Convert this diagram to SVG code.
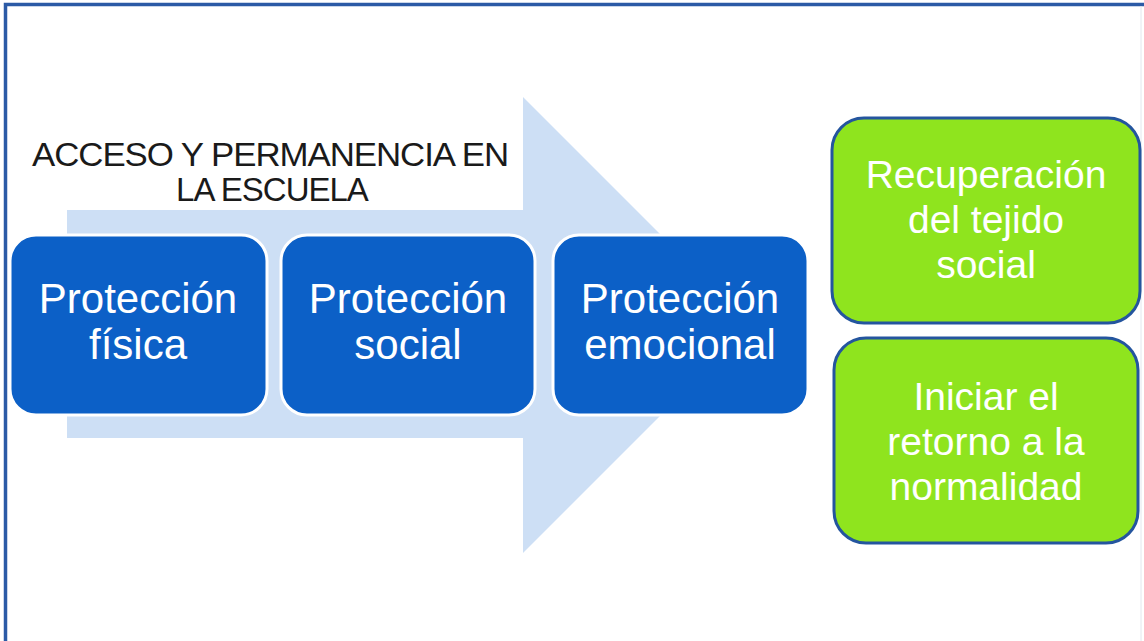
<svg xmlns="http://www.w3.org/2000/svg" width="1144" height="641" viewBox="0 0 1144 641">
  <style>
    .frame { fill: none; stroke: #2b5aa6; stroke-width: 3.5; }
    .blue { fill: #0c60c7; stroke: #ffffff; stroke-width: 3; }
    .green { fill: #8fe41e; stroke: #24559e; stroke-width: 3; }
    .bt { font-family: "Liberation Sans", Arial, sans-serif; font-size: 42px; fill: #ffffff; text-anchor: middle; }
    .gt { font-family: "Liberation Sans", Arial, sans-serif; font-size: 39px; fill: #ffffff; text-anchor: middle; }
    .title { font-family: "Liberation Sans", Arial, sans-serif; font-size: 33px; fill: #1a1a1a; text-anchor: middle; letter-spacing: -1px; }
  </style>
  <rect width="1144" height="641" fill="#ffffff"/>
  <g id="frame">
    <path class="frame" d="M5.5,645 V4.5 H1144"/>
    <line x1="1141" y1="6" x2="1141" y2="641" stroke="#e2e6ee" stroke-width="1"/>
  </g>
  <g id="arrow">
    <polygon points="67,210 523,210 523,97 751,325 523,553 523,438 67,438" fill="#cddff5"/>
    <text class="title" x="270" y="166" textLength="476" lengthAdjust="spacingAndGlyphs">ACCESO Y PERMANENCIA EN</text>
    <text class="title" x="272" y="201">LA ESCUELA</text>
  </g>
  <g id="connectors"></g>
  <g id="node-fisica">
    <rect class="blue" x="10" y="235" width="257" height="180" rx="26"/>
    <text class="bt" x="138" y="313">Protección</text>
    <text class="bt" x="138" y="359">física</text>
  </g>
  <g id="node-social">
    <rect class="blue" x="281" y="235" width="254" height="180" rx="26"/>
    <text class="bt" x="408" y="313">Protección</text>
    <text class="bt" x="408" y="359">social</text>
  </g>
  <g id="node-emocional">
    <rect class="blue" x="553" y="235" width="255" height="180" rx="26"/>
    <text class="bt" x="680" y="313">Protección</text>
    <text class="bt" x="680" y="359">emocional</text>
  </g>
  <g id="node-recuperacion">
    <rect class="green" x="832" y="118" width="308" height="205" rx="32"/>
    <text class="gt" x="986" y="188">Recuperación</text>
    <text class="gt" x="986" y="233">del tejido</text>
    <text class="gt" x="986" y="278">social</text>
  </g>
  <g id="node-retorno">
    <rect class="green" x="834" y="338" width="304" height="205" rx="32"/>
    <text class="gt" x="986" y="410">Iniciar el</text>
    <text class="gt" x="986" y="455">retorno a la</text>
    <text class="gt" x="986" y="500">normalidad</text>
  </g>
</svg>
